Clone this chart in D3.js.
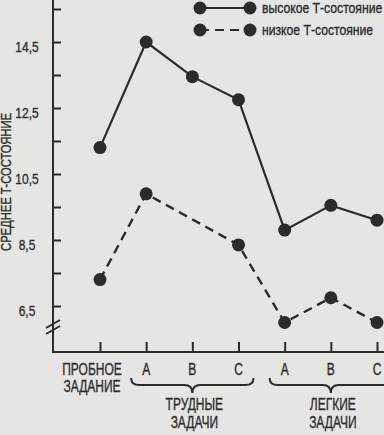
<!DOCTYPE html>
<html><head><meta charset="utf-8">
<script src="https://cdn.jsdelivr.net/npm/d3@7"></script>
<style>
html,body{margin:0;padding:0;background:#e5e5e3;}
svg{display:block;}
text{font-family:"Liberation Sans Narrow","Arial Narrow","Liberation Sans",sans-serif;fill:#2e2e2e;stroke:#2e2e2e;stroke-width:0.35px;}
</style></head>
<body>
<script>
const categories = ["trial","hardA","hardB","hardC","easyA","easyB","easyC"];
const xTickLabels = [["ПРОБНОЕ","ЗАДАНИЕ"],["A"],["B"],["C"],["A"],["B"],["C"]];
const highValues = [11.3, 14.5, 13.45, 12.75, 8.8, 9.55, 9.1];
const lowValues  = [7.3, 9.9, null, 8.35, 6.0, 6.75, 6.0];
const yTickValues = [6.5, 7.5, 8.5, 9.5, 10.5, 11.5, 12.5, 13.5, 14.5, 15.5];
const yTickLabels = {"6.5":"6,5","8.5":"8,5","10.5":"10,5","12.5":"12,5","14.5":"14,5"};
const groups = [{label:["ТРУДНЫЕ","ЗАДАЧИ"], from:"hardA", to:"hardC"},
                {label:["ЛЕГКИЕ","ЗАДАЧИ"], from:"easyA", to:"easyC"}];
const seriesNames = ["высокое Т-состояние","низкое Т-состояние"];
const yTitle = "СРЕДНЕЕ Т-СОСТОЯНИЕ";

const W=384,H=435, ink="#2b2b2b";
const svg=d3.select("body").append("svg").attr("width",W).attr("height",H);
const x=d3.scalePoint().domain(categories).range([100,377]);
const y=d3.scaleLinear().domain([6.5,14.5]).range([306,42]);
const axisX=53, baseY=352;

function txt(x0,y0,s,size,sx,anchor,extra){
  return svg.append("text")
    .attr("transform",`translate(${x0},${y0})${extra||""} scale(${sx},1)`)
    .attr("text-anchor",anchor||"middle").attr("font-size",size).text(s);
}

// y axis
const ya=svg.append("g").attr("transform",`translate(${axisX},0)`)
  .call(d3.axisRight(y).tickValues(yTickValues).tickSize(8).tickFormat(""));
ya.select(".domain").remove();
ya.selectAll("line").attr("stroke",ink).attr("stroke-width",2);
svg.append("line").attr("x1",axisX).attr("x2",axisX).attr("y1",0).attr("y2",baseY)
  .attr("stroke",ink).attr("stroke-width",2);
yTickValues.filter(v=>yTickLabels[String(v)]).forEach(v=>{
  txt(27,y(v)+10,yTickLabels[String(v)],15,0.8,"middle");
});
// break marks
[0,6].forEach(o=>{
  svg.append("line").attr("x1",axisX-7).attr("y1",y(6.5)+22+o).attr("x2",axisX+7).attr("y2",y(6.5)+14+o)
    .attr("stroke",ink).attr("stroke-width",2);
});
// x axis
const xa=svg.append("g").attr("transform",`translate(0,${baseY})`)
  .call(d3.axisTop(x).tickSize(10).tickFormat(""));
xa.select(".domain").remove();
xa.selectAll("line").attr("stroke",ink).attr("stroke-width",2);
svg.append("line").attr("x1",axisX-1).attr("x2",W).attr("y1",baseY).attr("y2",baseY)
  .attr("stroke",ink).attr("stroke-width",2);
categories.forEach((c,i)=>{
  xTickLabels[i].forEach((t,j)=>{
    txt(x(c)-(i===0?8:0),375+j*17,t,16,0.75,"middle");
  });
});
// braces
groups.forEach(g=>{
  const x0=x(g.from)-15, x1=x(g.to)+15, xm=(x0+x1)/2, t=378, m=385, b=393;
  const p=`M${x0},${t} Q${x0},${m} ${x0+8},${m} L${xm-8},${m} Q${xm},${m} ${xm},${b} Q${xm},${m} ${xm+8},${m} L${x1-8},${m} Q${x1},${m} ${x1},${t}`;
  svg.append("path").attr("d",p).attr("fill","none").attr("stroke",ink).attr("stroke-width",2);
  g.label.forEach((t2,j)=>{
    txt(xm+2,410+j*18,t2,16,0.75,"middle");
  });
});
// y title
txt(11,182,yTitle,14,0.8,"middle"," rotate(-90)");

// series
const line=d3.line().x(d=>x(d.c)).y(d=>y(d.v));
const hi=categories.map((c,i)=>({c,v:highValues[i]})).filter(d=>d.v!=null);
const lo=categories.map((c,i)=>({c,v:lowValues[i]})).filter(d=>d.v!=null);
svg.append("path").attr("d",line(hi)).attr("fill","none").attr("stroke",ink).attr("stroke-width",2.2);
svg.append("path").attr("d",line(lo)).attr("fill","none").attr("stroke",ink).attr("stroke-width",2.4)
  .attr("stroke-dasharray","9,6");
[hi,lo].forEach(s=>svg.selectAll(null).data(s).join("circle")
  .attr("cx",d=>x(d.c)).attr("cy",d=>y(d.v)).attr("r",6.5).attr("fill",ink));

// legend
[[0,null],[1,"9,6"]].forEach(([i,dash])=>{
  const yy=8+i*22;
  svg.append("line").attr("x1",200).attr("x2",250).attr("y1",yy).attr("y2",yy)
    .attr("stroke",ink).attr("stroke-width",2.2).attr("stroke-dasharray",dash);
  [200,250].forEach(cx=>svg.append("circle").attr("cx",cx).attr("cy",yy).attr("r",6.5).attr("fill",ink));
  txt(262,yy+5,seriesNames[i],14,0.87,"start");
});
</script>
</body></html>
